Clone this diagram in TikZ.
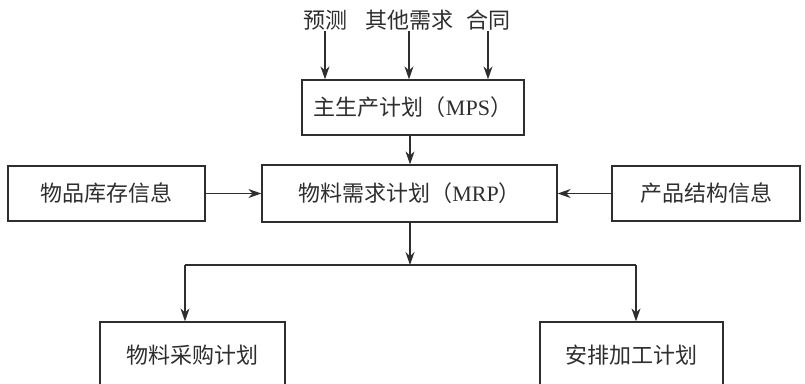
\documentclass[tikz,border=0pt]{standalone}
\usepackage{fontspec}
\setmainfont{Liberation Serif}
\newfontfamily\cjk{Noto Sans CJK SC}
\usetikzlibrary{arrows.meta}
\definecolor{ink}{HTML}{2E2E2E}
\tikzset{
  box/.style={draw=ink, line width=1.3pt, rectangle, inner sep=0pt, text=ink, font=\fontsize{22}{25}\selectfont\cjk},
  lbl/.style={inner sep=1pt, text=ink, font=\fontsize{22}{25}\selectfont\cjk},
  arr/.style={draw=ink, line width=1.3pt, -{Stealth[length=13pt,width=9pt]}},
  ln/.style={draw=ink, line width=1.3pt}
}
\begin{document}
\begin{tikzpicture}[x=1pt,y=-1pt]
\useasboundingbox (0,0) rectangle (805,383);
\clip (0,0) rectangle (805,383);
\fill[white] (0,0) rectangle (805,383);
% top labels
\node[lbl] (pred) at (325,20) {预测};
\node[lbl] (other) at (409,20) {其他需求};
\node[lbl] (contract) at (488,20) {合同};
% boxes
\node[box, minimum width=222pt, minimum height=55pt] (mps) at (413,107.5) {主生产计划（{\rmfamily MPS}）};
\node[box, minimum width=295pt, minimum height=57pt] (mrp) at (409.5,193.5) {物料需求计划（{\rmfamily MRP}）};
\node[box, minimum width=197pt, minimum height=55pt] (inv) at (106.5,193.5) {物品库存信息};
\node[box, minimum width=188pt, minimum height=55pt] (prod) at (706,193.5) {产品结构信息};
\node[box, minimum width=185pt, minimum height=66pt] (buy) at (192.5,355) {物料采购计划};
\node[box, minimum width=183pt, minimum height=66pt] (sched) at (631.5,355) {安排加工计划};
% junction coordinates
\coordinate (j) at (410,265);
\coordinate (jl) at (185,265);
\coordinate (jr) at (636,265);
% connectors
\draw[arr] (pred.south) -- (pred.south |- mps.north);
\draw[arr] (other.south) -- (other.south |- mps.north);
\draw[arr] (contract.south) -- (contract.south |- mps.north);
\draw[arr] (mps.south -| j) -- (mrp.north -| j);
\draw[arr] (inv.east) -- (mrp.west);
\draw[arr] (prod.west) -- (mrp.east);
\draw[arr] (mrp.south -| j) -- (j);
\draw[ln] (jl) -- (jr);
\draw[arr] (jl) -- (jl |- buy.north);
\draw[arr] (jr) -- (jr |- sched.north);
\end{tikzpicture}
\end{document}
